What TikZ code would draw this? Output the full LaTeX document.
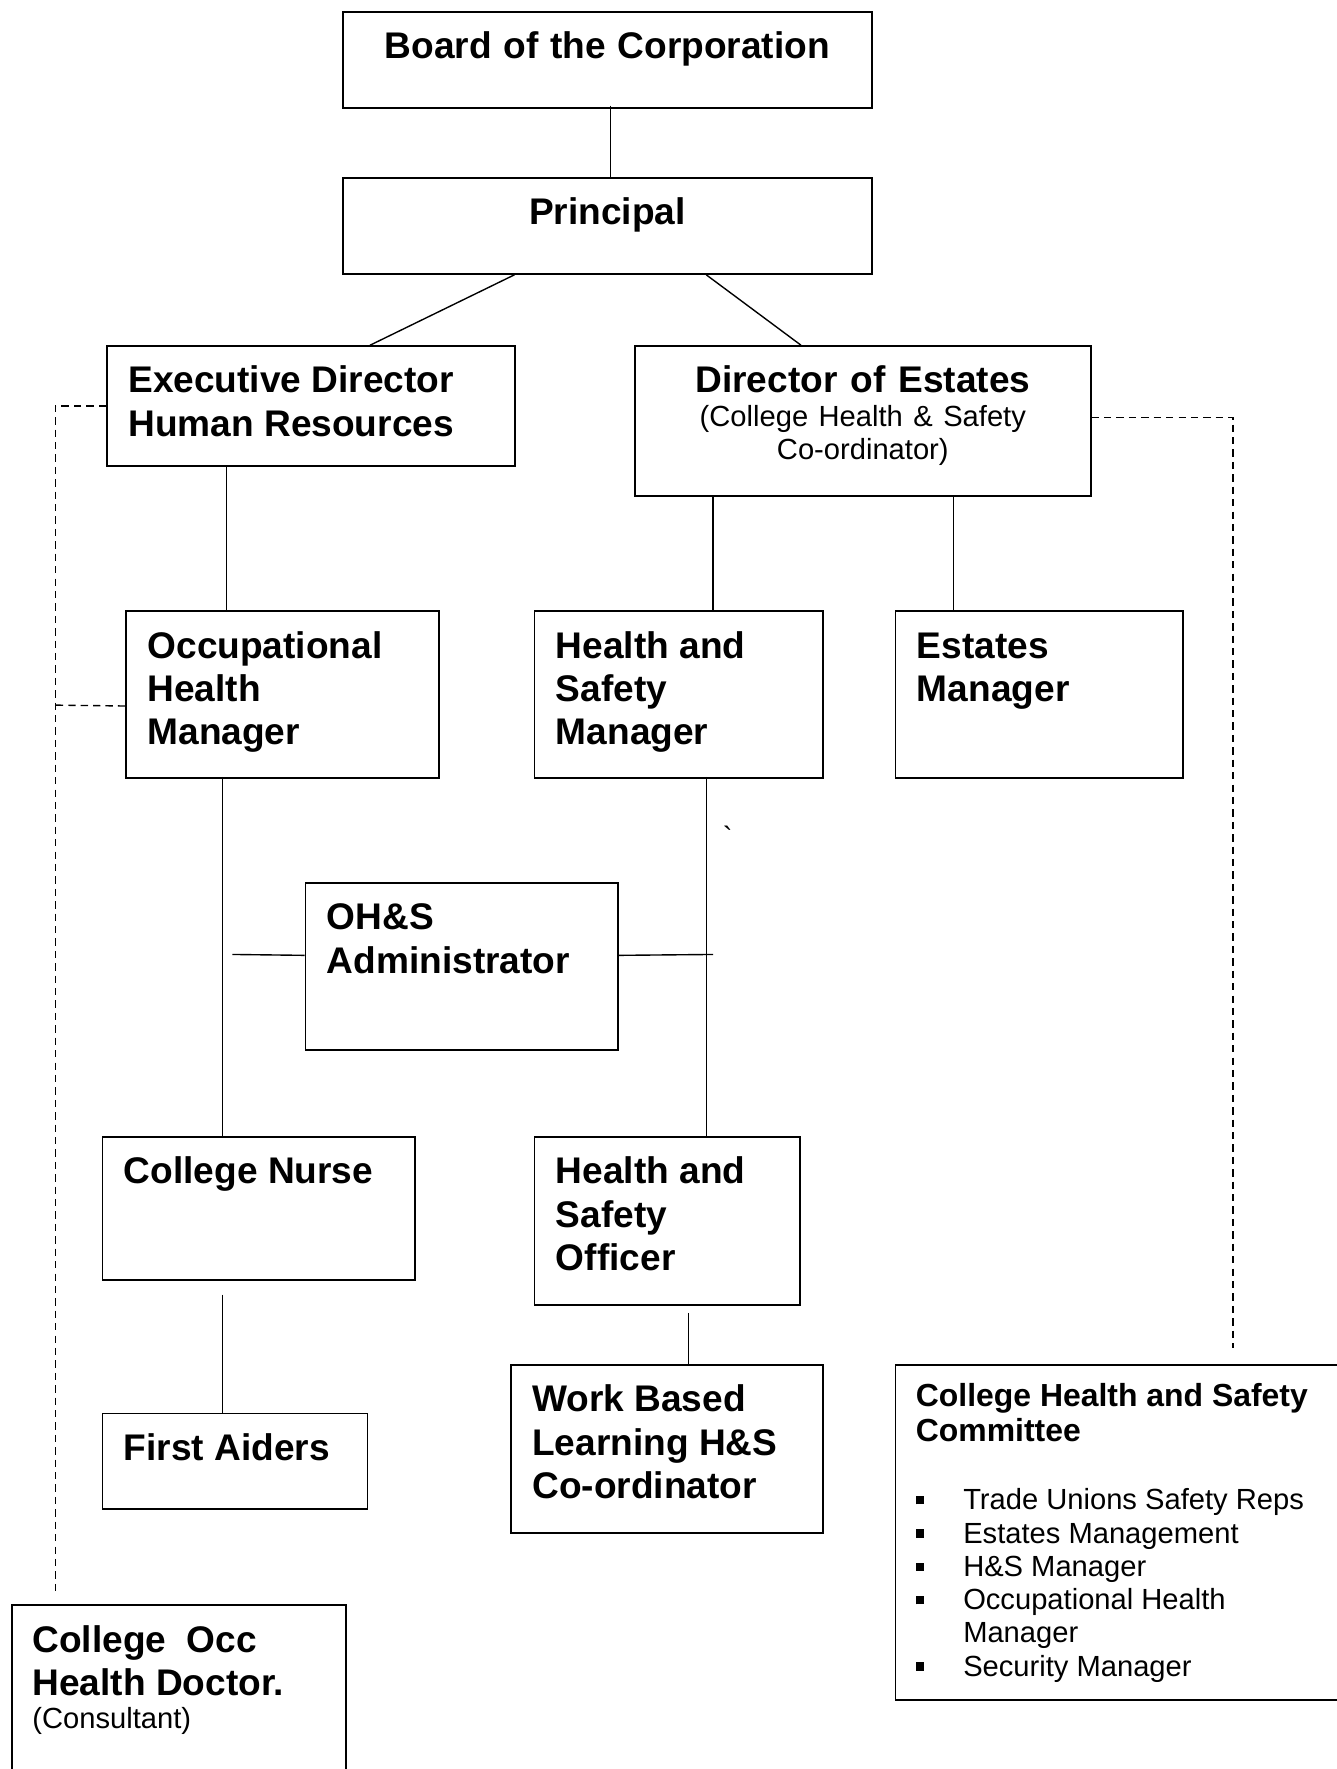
\documentclass[tikz,border=0pt]{standalone}
\usepackage{fontspec}
\setmainfont{Liberation Sans}
\usetikzlibrary{calc}
\definecolor{orgInk}{HTML}{000000}
\newcommand\orgbold{\fontsize{18.7}{21.9}\selectfont\bfseries}
\newcommand\orgsub{\fontsize{16.1}{17.6}\selectfont\bfseries\spaceskip=0pt\xspaceskip=0pt\relax}
\newcommand\orgreg{\fontsize{14.7}{16.8}\selectfont\mdseries\spaceskip=0pt\xspaceskip=0pt\relax}
\newcommand\orgbullet{\makebox[8.4mm][l]{\raisebox{2.7pt}{\rule{1.5mm}{1.5mm}}}}
\tikzset{
  org box/.style={draw=orgInk, line width=0.9pt, anchor=north west, inner xsep=3.8mm, inner ysep=0pt, text height=8.3mm, align=left, font=\orgbold, text=orgInk,
    execute at begin node={\spaceskip=0pt\xspaceskip=0pt\relax}},
  org line/.style={draw=orgInk, line width=0.7pt},
  org link/.style={draw=orgInk, line width=0.7pt, dash pattern=on 1.3mm off 0.9mm},
}

\begin{document}
\begin{tikzpicture}[x=0.2mm,y=-0.2mm]
  \useasboundingbox (0,0) rectangle (1185,1568);
  \node[org box, align=center, text width=86.2mm, text depth=8.7mm] (board) at (303,10) {Board of the Corporation};
  \node[org box, align=center, text width=86.2mm, text depth=8.7mm] (principal) at (303,157) {Principal};
  \node[org box, text width=64.8mm, text depth=12.9mm] (hr) at (94,306) {Executive Director\\Human Resources};
  \node[org box, align=center, text width=73.2mm, text depth=18.3mm] (estates) at (562,306)
    {Director of Estates\par{\orgreg (College Health \& Safety\\Co-ordinator)\par}};
  \node[org box, text width=47.8mm, text depth=21.3mm] (ohm) at (111,541) {Occupational\\Health\\Manager};
  \node[org box, text width=43.6mm, text depth=21.3mm] (hsm) at (473,541) {Health and\\Safety\\Manager};
  \node[org box, text width=43.4mm, text depth=21.3mm] (estman) at (793,541) {Estates\\Manager};
  \node[org box, text width=47.8mm, text depth=21.3mm] (admin) at (270,782) {OH\&S\\Administrator};
  \node[org box, text width=47.8mm, text depth=17.1mm] (nurse) at (90,1007) {College Nurse};
  \node[org box, text width=39.4mm, text depth=21.5mm] (hso) at (473,1007) {Health and\\Safety\\Officer};
  \node[org box, text width=39.4mm, text depth=8.7mm] (aiders) at (90,1252) {First Aiders};
  \node[org box, text width=47.8mm, text depth=21.5mm] (wbl) at (452,1209) {Work Based\\Learning H\&S\\Co-ordinator};
  \node[org box, inner xsep=3.6mm, text width=52mm, text depth=31.7mm] (doctor) at (10,1422)
    {College\ \ Occ\\Health Doctor.\par{\orgreg (Consultant)\par}};
  \node[org box, inner xsep=3.6mm, text width=74.2mm, text height=7.4mm, text depth=52mm] (committee) at (793,1209)
    {{\orgsub College Health and Safety\\Committee\par}\vspace{17.6pt}
     {\orgreg\orgbullet Trade Unions Safety Reps\\
      \orgbullet Estates Management\\
      \orgbullet H\&S Manager\\
      \orgbullet Occupational Health\\
      \hspace*{8.4mm}Manager\\
      \orgbullet Security Manager\par}};
  \node[font=\orgreg, text=orgInk, anchor=base, inner sep=0pt] (stray) at (645,751) {\textasciigrave};

  \coordinate (adminL) at (206,846);
  \coordinate (adminR) at (632,846);
  \coordinate (ohmTap) at (49,625);
  \coordinate (doctorTap) at (49,1410);
  \coordinate (committeeTap) at (1093,1195);

  \draw[org line] ($(board.south west)+(238,-3)$) -- ($(principal.north west)+(238,0)$);
  \draw[org line] ($(principal.south west)+(153,0)$) -- ($(hr.north west)+(234,0)$);
  \draw[org line] ($(principal.south west)+(323,0)$) -- ($(estates.north west)+(148,0)$);
  \draw[org line] ($(hr.south west)+(107,0)$) -- ($(ohm.north west)+(90,0)$);
  \draw[org line] ($(estates.south west)+(70,0)$) -- ($(hsm.north west)+(159,0)$);
  \draw[org line] ($(estates.south west)+(283,0)$) -- ($(estman.north west)+(52,0)$);
  \draw[org line] ($(ohm.south west)+(86,-2)$) -- ($(nurse.north west)+(107,0)$);
  \draw[org line] ($(hsm.south west)+(153,-2)$) -- ($(hso.north west)+(153,0)$);
  \draw[org line] ($(nurse.south west)+(107,12)$) -- ($(aiders.north west)+(107,0)$);
  \draw[org line] ($(hso.south west)+(137,6)$) -- ($(wbl.north west)+(158,0)$);
  \draw[org line] ([yshift=2mm]admin.west) -- (adminL);
  \draw[org line] ([yshift=2mm]admin.east) -- (adminR);

  \draw[org link] (hr.west) -| (doctorTap);
  \draw[org link] ([yshift=-2mm]ohm.west) -- (ohmTap);
  \draw[org link] ([yshift=0.7mm]estates.east) -| (committeeTap);
\end{tikzpicture}
\end{document}
